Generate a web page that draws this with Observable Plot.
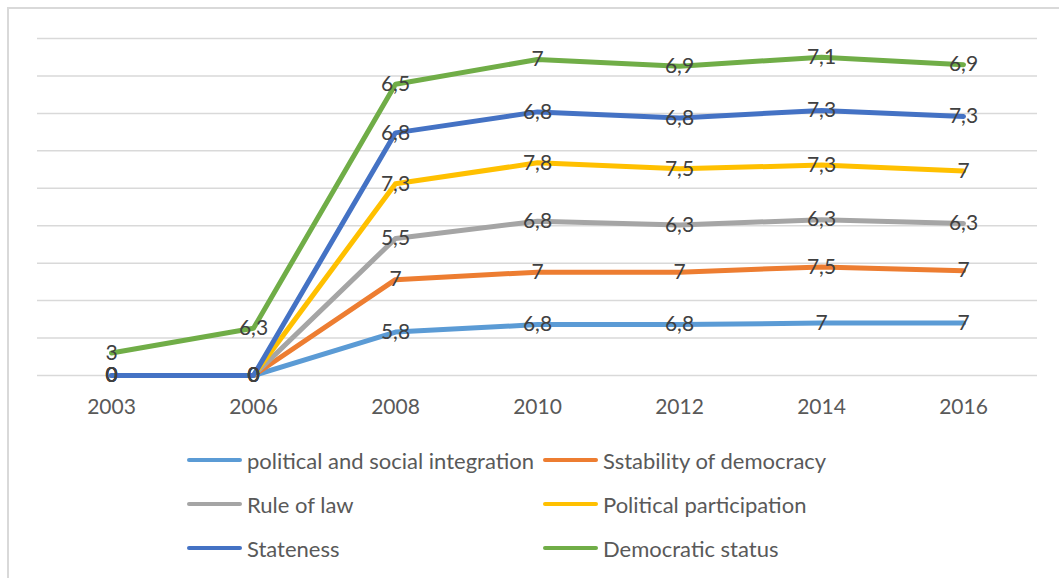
<!DOCTYPE html>
<html>
<head>
<meta charset="utf-8">
<script src="https://cdn.jsdelivr.net/npm/d3@7"></script>
<script src="https://cdn.jsdelivr.net/npm/@observablehq/plot@0.6"></script>
<style>
  html, body { margin: 0; padding: 0; background: #fff; }
  body { width: 1059px; height: 578px; position: relative; overflow: hidden; font-family: Lato, "Open Sans", sans-serif; }
  #frame { position: absolute; left: 7px; top: 7px; width: 1100px; height: 620px; border: 2px solid #d9d9d9; box-sizing: border-box; }
  #chart { position: absolute; left: 0; top: 0; }
  .legend-item { position: absolute; height: 26px; display: flex; align-items: center; font-size: 22px; color: #595959; white-space: nowrap; }
  .legend-item .swatch { display: inline-block; width: 55px; height: 4px; border-radius: 2px; margin-right: 5px; }
</style>
</head>
<body>
<div id="frame"></div>
<div id="chart"></div>
<div id="legend"></div>
<script>
// Survey years and the six indicator series (stacked in this order)
const years = ["2003", "2006", "2008", "2010", "2012", "2014", "2016"];
const seriesNames = [
  "political and social integration",
  "Sstability of democracy",
  "Rule of law",
  "Political participation",
  "Stateness",
  "Democratic status"
];
const integration   = [0, 0, 5.8, 6.8, 6.8, 7, 7];
const stability     = [0, 0, 7, 7, 7, 7.5, 7];
const ruleOfLaw     = [0, 0, 5.5, 6.8, 6.3, 6.3, 6.3];
const participation = [0, 0, 7.3, 7.8, 7.5, 7.3, 7];
const stateness     = [0, 0, 6.8, 6.8, 6.8, 7.3, 7.3];
const democratic    = [3, 6.3, 6.5, 7, 6.9, 7.1, 6.9];
const colors = ["#5B9BD5", "#ED7D31", "#A5A5A5", "#FFC000", "#4472C4", "#70AD47"];
const gridValues = [0, 5, 10, 15, 20, 25, 30, 35, 40, 45];

const seriesValues = [integration, stability, ruleOfLaw, participation, stateness, democratic];
const rows = seriesNames.flatMap((name, i) =>
  years.map((year, j) => ({series: name, year, value: seriesValues[i][j]}))
);

const fmt = v => String(v).replace(".", ",");

const chart = Plot.plot({
  width: 1059,
  height: 420,
  marginLeft: 37,
  marginRight: 22,
  marginTop: 38,
  marginBottom: 45,
  style: {fontFamily: "Lato, 'Open Sans', sans-serif", fontSize: "21px", color: "#595959", background: "transparent"},
  x: {type: "point", domain: years, padding: 0.5, axis: null, label: null},
  y: {domain: [0, 45], axis: null},
  color: {domain: seriesNames, range: colors},
  marks: [
    Plot.ruleY(gridValues, {stroke: "#d9d9d9", strokeWidth: 1.5}),
    Plot.axisX({tickSize: 0, tickPadding: 24, fontSize: 21, label: null}),
    Plot.lineY(rows, Plot.stackY2({
      x: "year", y: "value", z: "series", stroke: "series",
      strokeWidth: 5, strokeLinejoin: "round", strokeLinecap: "round"
    })),
    Plot.text(rows, Plot.stackY2({
      x: "year", y: "value", z: "series",
      text: d => fmt(d.value), fill: "#404040", fontSize: 21
    }))
  ]
});
document.getElementById("chart").appendChild(chart);

// Legend: two columns, three rows beneath the plot
const legend = document.getElementById("legend");
const colX = [187, 543];
const rowY = [460, 504, 548];
seriesNames.forEach((name, i) => {
  const item = document.createElement("div");
  item.className = "legend-item";
  item.style.left = colX[i % 2] + "px";
  item.style.top = (rowY[Math.floor(i / 2)] - 13) + "px";
  const sw = document.createElement("span");
  sw.className = "swatch";
  sw.style.background = colors[i];
  item.appendChild(sw);
  item.appendChild(document.createTextNode(name));
  legend.appendChild(item);
});
</script>
</body>
</html>
